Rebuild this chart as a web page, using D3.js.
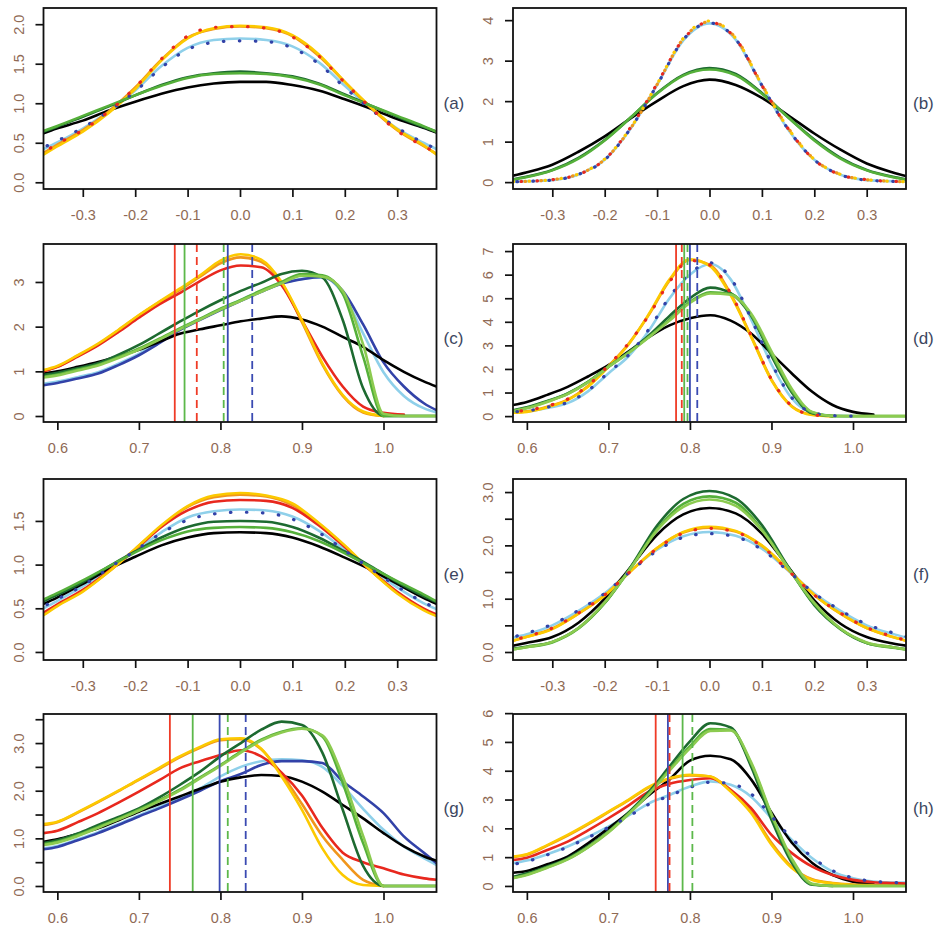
<!DOCTYPE html>
<html>
<head>
<meta charset="utf-8">
<script src="https://cdn.jsdelivr.net/npm/d3@7"></script>
<style>
body { margin: 0; background: #fff; }
text { font-family: "Liberation Sans", Arial, sans-serif; }
</style>
</head>
<body>
<svg width="938" height="934"></svg>
<script>
// x grids the curves were read at
var symX = [-0.375,-0.35,-0.3,-0.25,-0.2,-0.15,-0.1,-0.05,0,0.05,0.1,0.15,0.2,0.25,0.3,0.35,0.375];
var skewX = [0.583,0.6,0.625,0.65,0.675,0.7,0.725,0.75,0.775,0.8,0.825,0.85,0.875,0.9,0.925,0.95,0.975,1.0,1.025,1.05,1.065];

var symTicks = [-0.3,-0.2,-0.1,0,0.1,0.2,0.3];
var symTickLabels = ['-0.3','-0.2','-0.1','0.0','0.1','0.2','0.3'];
var skewTicks = [0.6,0.7,0.8,0.9,1.0];
var skewTickLabels = ['0.6','0.7','0.8','0.9','1.0'];

var panelLabels = ['(a)','(b)','(c)','(d)','(e)','(f)','(g)','(h)'];

// (a)
var aGold = [0.35,0.45,0.64,0.88,1.18,1.54,1.82,1.95,1.98,1.96,1.86,1.62,1.27,0.95,0.67,0.47,0.35];
var aOrange = [0.37,0.47,0.66,0.9,1.2,1.55,1.83,1.94,1.97,1.95,1.85,1.6,1.27,0.94,0.66,0.46,0.36];
var aRed = [0.38,0.48,0.66,0.9,1.2,1.56,1.85,1.96,1.97,1.95,1.84,1.6,1.26,0.94,0.65,0.46,0.37];
var aBlue = [0.44,0.52,0.69,0.9,1.15,1.45,1.68,1.77,1.79,1.78,1.7,1.5,1.2,0.92,0.69,0.5,0.42];
var aLightblue = [0.42,0.5,0.68,0.9,1.16,1.47,1.7,1.8,1.82,1.8,1.72,1.52,1.22,0.93,0.68,0.5,0.42];
var aDarkgreen = [0.64,0.7,0.83,0.96,1.1,1.23,1.33,1.38,1.4,1.38,1.34,1.25,1.11,0.97,0.83,0.7,0.64];
var aGreen = [0.65,0.71,0.84,0.97,1.1,1.22,1.32,1.37,1.38,1.37,1.33,1.24,1.1,0.97,0.84,0.71,0.64];
var aBlack = [0.62,0.68,0.78,0.91,1.02,1.12,1.2,1.25,1.27,1.27,1.23,1.16,1.05,0.93,0.8,0.69,0.63];

// (b)
var bGold = [0.01,0.02,0.06,0.2,0.57,1.35,2.42,3.55,3.98,3.55,2.4,1.33,0.56,0.19,0.06,0.02,0.01];
var bOrange = [0.01,0.02,0.06,0.2,0.56,1.34,2.41,3.54,3.96,3.56,2.41,1.34,0.56,0.19,0.06,0.02,0.01];
var bRed = [0.01,0.02,0.06,0.19,0.56,1.36,2.43,3.53,3.95,3.54,2.39,1.32,0.55,0.18,0.06,0.02,0.01];
var bBlue = [0.01,0.02,0.05,0.19,0.55,1.34,2.4,3.52,3.93,3.53,2.39,1.31,0.55,0.18,0.05,0.02,0.01];
var bLightblue = [0.01,0.02,0.05,0.19,0.55,1.33,2.4,3.5,3.92,3.52,2.38,1.3,0.55,0.18,0.05,0.02,0.01];
var bBlack = [0.16,0.24,0.43,0.75,1.13,1.58,2.0,2.37,2.53,2.4,2.08,1.65,1.2,0.8,0.46,0.24,0.15];
var bDarkgreen = [0.07,0.13,0.3,0.6,1.04,1.6,2.2,2.65,2.82,2.67,2.2,1.6,1.05,0.6,0.3,0.13,0.07];
var bGreen = [0.06,0.12,0.29,0.58,1.03,1.6,2.19,2.63,2.78,2.64,2.18,1.6,1.03,0.58,0.29,0.12,0.06];

// (c)
var cGold = [1.03,1.12,1.36,1.62,1.93,2.26,2.56,2.85,3.15,3.48,3.62,3.5,3.0,2.14,1.18,0.47,0.1,0,null,null,null];
var cOrange = [1.0,1.1,1.35,1.6,1.92,2.25,2.55,2.82,3.12,3.42,3.55,3.45,2.98,2.1,1.15,0.45,0.08,0,null,null,null];
var cRed = [1.0,1.1,1.33,1.58,1.88,2.2,2.5,2.75,3.02,3.26,3.37,3.33,2.93,2.14,1.33,0.66,0.21,0.07,0.03,null,null];
var cDarkgreen = [0.92,0.97,1.07,1.18,1.37,1.59,1.85,2.11,2.36,2.59,2.8,2.98,3.18,3.25,3.1,2.15,0.62,0,0,0,0];
var cGreen = [0.88,0.93,1.04,1.15,1.32,1.51,1.73,1.96,2.18,2.4,2.6,2.81,3.0,3.18,3.15,2.74,1.33,0,0,0,0];
var cLightgreen = [0.86,0.91,1.02,1.13,1.3,1.49,1.71,1.94,2.16,2.38,2.58,2.78,2.97,3.14,3.12,2.8,1.6,0.05,0,0,0];
var cBlue = [0.69,0.74,0.84,0.95,1.14,1.36,1.63,1.92,2.15,2.37,2.58,2.78,2.96,3.06,3.11,2.8,2.05,1.2,0.66,0.28,0.13];
var cLightblue = [0.72,0.77,0.87,0.98,1.17,1.39,1.66,1.94,2.17,2.39,2.6,2.8,2.97,3.07,3.1,2.75,1.85,0.98,0.45,0.17,0.08];
var cBlack = [0.95,1.0,1.1,1.21,1.34,1.48,1.66,1.84,1.94,2.03,2.12,2.18,2.23,2.16,2.0,1.77,1.55,1.25,0.99,0.77,0.66];
var cVx = [0.744,0.756,0.771,0.804,0.809,0.839];
var cVcol = ['red','green','red','green','blue','blue'];
var cVdash = [0,0,1,1,0,1];

// (d)
var dGold = [0.14,0.18,0.38,0.68,1.25,2.09,3.05,4.35,5.8,6.65,6.35,5.12,3.36,1.52,0.4,0.05,0,null,null,null,null];
var dOrange = [0.16,0.2,0.4,0.7,1.28,2.12,3.08,4.32,5.75,6.62,6.4,5.18,3.4,1.55,0.42,0.06,0,null,null,null,null];
var dRed = [0.2,0.25,0.43,0.72,1.3,2.15,3.1,4.3,5.7,6.6,6.4,5.2,3.42,1.56,0.43,0.06,0,null,null,null,null];
var dBlue = [0.18,0.22,0.38,0.58,1.08,1.85,2.6,3.7,5.05,6.05,6.5,5.85,4.15,2.25,0.78,0.15,0.02,0,null,null,null];
var dLightblue = [0.15,0.2,0.35,0.55,1.05,1.81,2.55,3.64,5.0,6.0,6.45,5.8,4.1,2.2,0.75,0.14,0.02,0,null,null,null];
var dDarkgreen = [0.25,0.38,0.64,0.96,1.45,2.09,2.72,3.43,4.25,5.0,5.45,5.22,4.25,2.55,1.0,0.12,0,null,null,null,null];
var dGreen = [0.22,0.35,0.62,0.95,1.45,2.1,2.7,3.38,4.1,4.85,5.25,5.18,4.3,2.65,1.08,0.15,0,0,0,0,0];
var dLightgreen = [0.2,0.33,0.6,0.93,1.43,2.08,2.68,3.35,4.05,4.8,5.2,5.15,4.35,2.75,1.15,0.18,0.01,0,0,0,0];
var dBlack = [0.47,0.6,0.9,1.24,1.68,2.16,2.75,3.36,3.85,4.15,4.28,4.05,3.5,2.65,1.81,1.03,0.47,0.18,0.07,null,null];
var dVx = [0.783,0.790,0.793,0.797,0.800,0.809];
var dVcol = ['red','red','green','green','blue','blue'];
var dVdash = [0,1,0,1,0,1];

// (e)
var eGold = [0.42,0.52,0.69,0.92,1.18,1.45,1.67,1.79,1.82,1.79,1.7,1.48,1.22,0.93,0.67,0.48,0.41];
var eOrange = [0.43,0.53,0.7,0.92,1.18,1.44,1.66,1.77,1.8,1.78,1.68,1.47,1.21,0.93,0.68,0.49,0.42];
var eRed = [0.45,0.54,0.71,0.93,1.17,1.43,1.62,1.72,1.74,1.73,1.65,1.45,1.2,0.93,0.69,0.5,0.43];
var eLightblue = [0.5,0.58,0.75,0.95,1.16,1.37,1.54,1.61,1.63,1.62,1.55,1.39,1.17,0.95,0.74,0.56,0.49];
var eBlue = [0.52,0.6,0.76,0.96,1.16,1.36,1.51,1.58,1.6,1.59,1.52,1.37,1.16,0.95,0.75,0.57,0.5];
var eDarkgreen = [0.58,0.65,0.8,0.98,1.15,1.31,1.43,1.49,1.5,1.49,1.43,1.31,1.15,0.98,0.8,0.64,0.57];
var eGreen = [0.6,0.67,0.82,0.98,1.14,1.28,1.38,1.42,1.43,1.42,1.37,1.27,1.13,0.97,0.81,0.66,0.58];
var eBlack = [0.55,0.62,0.78,0.95,1.09,1.22,1.31,1.36,1.37,1.36,1.31,1.21,1.08,0.94,0.78,0.62,0.55];

// (f)
var fDarkgreen = [0.06,0.1,0.19,0.45,0.92,1.6,2.37,2.87,3.02,2.88,2.38,1.6,0.88,0.43,0.17,0.09,0.05];
var fGreen = [0.05,0.09,0.18,0.44,0.92,1.58,2.3,2.78,2.92,2.8,2.3,1.58,0.9,0.43,0.17,0.08,0.05];
var fLightgreen = [0.05,0.09,0.19,0.45,0.93,1.58,2.28,2.72,2.86,2.74,2.28,1.58,0.92,0.44,0.18,0.09,0.05];
var fBlack = [0.12,0.17,0.28,0.55,1.0,1.6,2.2,2.58,2.7,2.6,2.22,1.6,0.97,0.53,0.28,0.16,0.12];
var fGold = [0.21,0.28,0.43,0.72,1.06,1.52,1.95,2.25,2.35,2.27,2.0,1.55,1.07,0.72,0.45,0.28,0.21];
var fOrange = [0.21,0.28,0.44,0.72,1.06,1.52,1.95,2.24,2.33,2.26,1.99,1.54,1.07,0.72,0.45,0.28,0.21];
var fRed = [0.22,0.29,0.45,0.73,1.07,1.52,1.94,2.23,2.32,2.25,1.98,1.53,1.07,0.73,0.46,0.29,0.22];
var fLightblue = [0.27,0.33,0.5,0.77,1.1,1.53,1.92,2.17,2.25,2.18,1.94,1.53,1.1,0.77,0.5,0.34,0.27];
var fBlue = [0.28,0.35,0.52,0.78,1.1,1.52,1.9,2.15,2.22,2.16,1.92,1.52,1.1,0.78,0.52,0.36,0.29];

// (g)
var gGold = [1.3,1.35,1.55,1.77,2.0,2.24,2.48,2.72,2.92,3.08,3.1,2.88,2.3,1.6,0.79,0.23,0.02,0,null,null,null];
var gOrange = [1.28,1.34,1.54,1.76,1.99,2.23,2.46,2.7,2.9,3.06,3.08,2.87,2.35,1.72,1.05,0.55,0.13,0,null,null,null];
var gRed = [1.11,1.16,1.34,1.53,1.75,1.98,2.22,2.47,2.62,2.75,2.85,2.72,2.38,1.9,1.22,0.7,0.5,0.37,0.24,0.16,0.13];
var gDarkgreen = [0.9,0.96,1.1,1.28,1.45,1.63,1.86,2.12,2.4,2.72,3.0,3.28,3.45,3.38,2.8,1.6,0.42,0,0,0,0];
var gGreen = [0.88,0.93,1.07,1.24,1.41,1.6,1.8,2.02,2.28,2.54,2.82,3.07,3.24,3.31,3.14,2.16,0.9,0,0,0,0];
var gLightgreen = [0.86,0.91,1.05,1.22,1.4,1.58,1.78,2.0,2.26,2.52,2.8,3.05,3.22,3.3,3.16,2.3,1.05,0,0,0,0];
var gBlue = [0.77,0.82,0.96,1.11,1.28,1.46,1.63,1.81,2.0,2.2,2.35,2.54,2.62,2.62,2.58,2.2,1.88,1.53,1.04,0.69,0.48];
var gLightblue = [0.79,0.84,0.98,1.13,1.3,1.48,1.66,1.84,2.05,2.3,2.5,2.62,2.66,2.64,2.5,2.1,1.62,1.18,0.83,0.58,0.44];
var gBlack = [0.93,0.98,1.09,1.21,1.38,1.56,1.72,1.88,2.04,2.19,2.28,2.33,2.31,2.19,1.98,1.7,1.42,1.11,0.83,0.62,0.53];
var gVx = [0.738,0.766,0.799,0.809,0.831];
var gVcol = ['red','green','blue','green','blue'];
var gVdash = [0,0,0,1,1];

// (h)
var hDarkgreen = [0.32,0.44,0.68,0.96,1.38,1.89,2.55,3.28,4.15,5.02,5.65,5.5,4.15,2.3,0.8,0.04,0,null,null,null,null];
var hGreen = [0.28,0.4,0.65,0.93,1.35,1.87,2.52,3.22,4.05,4.85,5.45,5.42,4.25,2.45,0.9,0.06,0,0,0,0,0];
var hLightgreen = [0.27,0.38,0.63,0.92,1.34,1.86,2.5,3.2,4.0,4.78,5.38,5.4,4.3,2.5,0.95,0.08,0,0,0,0,0];
var hBlack = [0.46,0.52,0.75,1.02,1.48,2.0,2.55,3.16,3.7,4.35,4.52,4.4,3.7,2.55,1.5,0.8,0.38,0.15,0.07,null,null];
var hGold = [1.02,1.1,1.42,1.77,2.16,2.58,3.0,3.45,3.74,3.86,3.8,3.28,2.53,1.43,0.62,0.21,0.09,0.03,0.01,null,null];
var hOrange = [1.0,1.08,1.4,1.75,2.14,2.56,2.98,3.42,3.72,3.84,3.8,3.3,2.58,1.5,0.66,0.23,0.1,0.05,0.03,0.02,0.02];
var hRed = [0.9,0.98,1.25,1.54,1.93,2.35,2.8,3.28,3.55,3.68,3.74,3.34,2.7,1.77,1.14,0.67,0.38,0.21,0.13,0.1,0.08];
var hLightblue = [0.79,0.88,1.1,1.37,1.7,2.06,2.45,2.87,3.16,3.45,3.63,3.51,3.1,2.35,1.6,0.96,0.5,0.27,0.15,0.12,0.12];
var hBlue = [0.75,0.85,1.08,1.35,1.68,2.03,2.42,2.84,3.13,3.42,3.6,3.55,3.2,2.42,1.65,1.0,0.53,0.28,0.16,0.12,0.11];
var hVx = [0.758,0.773,0.775,0.791,0.803];
var hVcol = ['red','blue','red','green','green'];
var hVdash = [0,0,1,0,1];

var colors = {
    black: '#000000', darkgreen: '#1d6a30', green: '#55b03a', lightgreen: '#8ccb50',
    red: '#e8281e', orange: '#f0961c', gold: '#fcc900', blue: '#3242a8', lightblue: '#8fd0ea'
};
var vColors = { red: '#ef3b26', green: '#5cb84a', blue: '#3a4ab2' };
// solid lines first, dotted ones are laid over them
var drawOrder = ['lightblue','blue','black','orange','red','gold','darkgreen','green','lightgreen'];
var dotOffset = { gold: 0, orange: 4, red: 8, blue: 12 };

var colX = [[43.5, 436.5], [513, 906]];
var rowY = [[8, 189], [244, 422], [479, 660], [714, 892]];

var panels = [
    { xs: symX, xd: [-0.375, 0.375], xt: symTicks, xl: symTickLabels, yd: [-0.085, 2.205],
      yt: [0,0.5,1,1.5,2], yl: ['0.0','0.5','1.0','1.5','2.0'], dotted: ['red','blue'],
      s: { gold: aGold, orange: aOrange, red: aRed, blue: aBlue, lightblue: aLightblue, darkgreen: aDarkgreen, green: aGreen, black: aBlack } },
    { xs: symX, xd: [-0.375, 0.375], xt: symTicks, xl: symTickLabels, yd: [-0.17, 4.3],
      yt: [0,1,2,3,4], yl: ['0','1','2','3','4'], dotted: ['gold','orange','red','blue'],
      s: { gold: bGold, orange: bOrange, red: bRed, blue: bBlue, lightblue: bLightblue, darkgreen: bDarkgreen, green: bGreen, black: bBlack } },
    { xs: skewX, xd: [0.583, 1.065], xt: skewTicks, xl: skewTickLabels, yd: [-0.134, 3.85],
      yt: [0,1,2,3], yl: ['0','1','2','3'], dotted: [],
      s: { gold: cGold, orange: cOrange, red: cRed, blue: cBlue, lightblue: cLightblue, darkgreen: cDarkgreen, green: cGreen, lightgreen: cLightgreen, black: cBlack },
      vx: cVx, vc: cVcol, vd: cVdash },
    { xs: skewX, xd: [0.583, 1.065], xt: skewTicks, xl: skewTickLabels, yd: [-0.25, 7.3],
      yt: [0,1,2,3,4,5,6,7], yl: ['0','1','2','3','4','5','6','7'], dotted: ['red','blue'],
      s: { gold: dGold, orange: dOrange, red: dRed, blue: dBlue, lightblue: dLightblue, darkgreen: dDarkgreen, green: dGreen, lightgreen: dLightgreen, black: dBlack },
      vx: dVx, vc: dVcol, vd: dVdash },
    { xs: symX, xd: [-0.375, 0.375], xt: symTicks, xl: symTickLabels, yd: [-0.092, 1.98],
      yt: [0,0.5,1,1.5], yl: ['0.0','0.5','1.0','1.5'], dotted: ['blue'],
      s: { gold: eGold, orange: eOrange, red: eRed, blue: eBlue, lightblue: eLightblue, darkgreen: eDarkgreen, green: eGreen, black: eBlack } },
    { xs: symX, xd: [-0.375, 0.375], xt: symTicks, xl: symTickLabels, yd: [-0.15, 3.245],
      yt: [0,0.5,1,1.5,2,2.5,3], yl: ['0.0','','1.0','','2.0','','3.0'], dotted: ['red','blue'],
      s: { gold: fGold, orange: fOrange, red: fRed, blue: fBlue, lightblue: fLightblue, darkgreen: fDarkgreen, green: fGreen, lightgreen: fLightgreen, black: fBlack } },
    { xs: skewX, xd: [0.583, 1.065], xt: skewTicks, xl: skewTickLabels, yd: [-0.126, 3.61],
      yt: [0,0.5,1,1.5,2,2.5,3,3.5], yl: ['0.0','','1.0','','2.0','','3.0',''], dotted: [],
      s: { gold: gGold, orange: gOrange, red: gRed, blue: gBlue, lightblue: gLightblue, darkgreen: gDarkgreen, green: gGreen, lightgreen: gLightgreen, black: gBlack },
      vx: gVx, vc: gVcol, vd: gVdash },
    { xs: skewX, xd: [0.583, 1.065], xt: skewTicks, xl: skewTickLabels, yd: [-0.21, 5.97],
      yt: [0,1,2,3,4,5,6], yl: ['0','1','2','3','4','5','6'], dotted: ['blue'],
      s: { gold: hGold, orange: hOrange, red: hRed, blue: hBlue, lightblue: hLightblue, darkgreen: hDarkgreen, green: hGreen, lightgreen: hLightgreen, black: hBlack },
      vx: hVx, vc: hVcol, vd: hVdash }
];

var svg = d3.select('svg');
var tickColor = '#8f6a55';
var fontStack = '"Liberation Sans", Arial, sans-serif';

panels.forEach(function(p, i) {
    var cx = colX[i % 2], ry = rowY[Math.floor(i / 2)];
    var x = d3.scaleLinear().domain(p.xd).range(cx);
    var y = d3.scaleLinear().domain(p.yd).range([ry[1], ry[0]]);
    var g = svg.append('g');

    g.append('clipPath').attr('id', 'clip' + i)
        .append('rect').attr('x', cx[0]).attr('y', ry[0])
        .attr('width', cx[1] - cx[0]).attr('height', ry[1] - ry[0]);

    var plot = g.append('g').attr('clip-path', 'url(#clip' + i + ')');

    var line = d3.line()
        .defined(function(d) { return d[1] != null; })
        .x(function(d) { return x(d[0]); })
        .y(function(d) { return y(d[1]); })
        .curve(d3.curveMonotoneX);

    var solid = drawOrder.filter(function(n) { return p.s[n] && p.dotted.indexOf(n) < 0; });
    var dots = drawOrder.filter(function(n) { return p.s[n] && p.dotted.indexOf(n) >= 0; });

    solid.concat(dots).forEach(function(name) {
        var vals = p.s[name];
        var pts = p.xs.map(function(xv, k) { return [xv, vals[k]]; });
        var dotted = p.dotted.indexOf(name) >= 0;
        plot.append('path')
            .attr('d', line(pts))
            .attr('fill', 'none')
            .attr('stroke', colors[name])
            .attr('stroke-width', dotted ? 3.2 : 2.6)
            .attr('stroke-linecap', 'round')
            .attr('stroke-linejoin', 'round')
            .attr('stroke-dasharray', dotted ? '0.5,15.5' : null)
            .attr('stroke-dashoffset', dotted ? dotOffset[name] : null);
    });

    if (p.vx) {
        p.vx.forEach(function(v, k) {
            plot.append('line')
                .attr('x1', x(v)).attr('x2', x(v))
                .attr('y1', ry[0]).attr('y2', ry[1])
                .attr('stroke', vColors[p.vc[k]])
                .attr('stroke-width', 1.8)
                .attr('stroke-dasharray', p.vd[k] ? '8,5' : null);
        });
    }

    // box
    g.append('rect').attr('x', cx[0]).attr('y', ry[0])
        .attr('width', cx[1] - cx[0]).attr('height', ry[1] - ry[0])
        .attr('fill', 'none').attr('stroke', '#111').attr('stroke-width', 1.8);

    // x axis
    var xa = g.append('g').attr('transform', 'translate(0,' + ry[1] + ')')
        .call(d3.axisBottom(x).tickValues(p.xt).tickSize(8).tickPadding(13)
            .tickFormat(function(d, k) { return p.xl[k]; }));
    xa.select('.domain').remove();
    xa.selectAll('line').attr('stroke', '#111').attr('stroke-width', 1.7);
    xa.selectAll('text').attr('fill', tickColor).style('font-size', '14.5px')
        .style('font-family', fontStack);

    // y axis, labels turned parallel to the axis
    var ya = g.append('g').attr('transform', 'translate(' + cx[0] + ',0)')
        .call(d3.axisLeft(y).tickValues(p.yt).tickSize(8)
            .tickFormat(function(d, k) { return p.yl[k]; }));
    ya.select('.domain').remove();
    ya.selectAll('line').attr('stroke', '#111').attr('stroke-width', 1.7);
    ya.selectAll('text')
        .attr('fill', tickColor).style('font-size', '14.5px')
        .style('font-family', fontStack)
        .attr('text-anchor', 'middle')
        .attr('transform', 'rotate(-90)')
        .attr('x', 0).attr('y', -25).attr('dy', '0.35em');

    // panel tag
    g.append('text')
        .attr('x', cx[1] + 7).attr('y', (ry[0] + ry[1]) / 2 + 5)
        .attr('dy', '0.35em')
        .attr('fill', '#3c4660')
        .style('font-size', '17px')
        .text(panelLabels[i]);
});
</script>
</body>
</html>
